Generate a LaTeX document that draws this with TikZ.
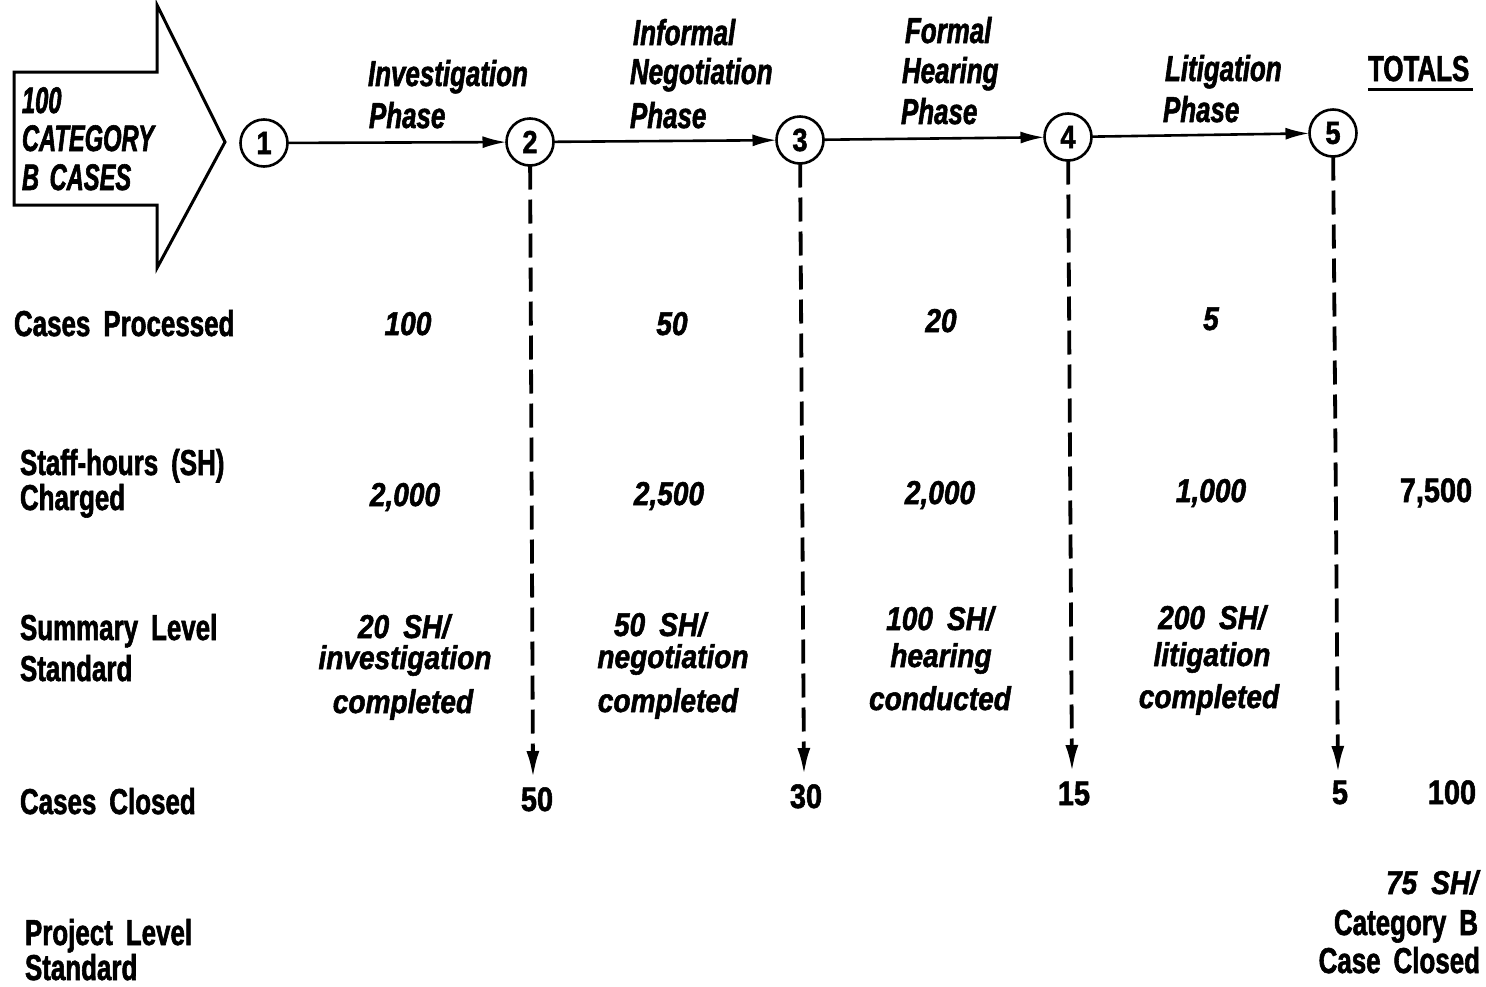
\documentclass[tikz,border=0pt]{standalone}
\usepackage{fontspec}
\setmainfont{Liberation Sans}[FakeStretch=0.72, WordSpace=1.8,
  BoldFeatures={FakeBold=1.6}, BoldItalicFeatures={FakeBold=1.6}]
\newfontfamily\numfont{Liberation Sans}[FakeStretch=0.85, WordSpace=1.8,
  BoldFeatures={FakeBold=1.6}, BoldItalicFeatures={FakeBold=1.6}]
\newfontfamily\boxfont{Liberation Sans}[FakeStretch=0.64, WordSpace=1.6,
  BoldFeatures={FakeBold=1.6}, BoldItalicFeatures={FakeBold=1.6}]
\usetikzlibrary{arrows.meta}

\begin{document}
\begin{tikzpicture}[x=1pt, y=-1pt,
  every node/.style={inner sep=0pt, outer sep=0pt},
  lbl/.style={font=\fontsize{36}{38}\selectfont\bfseries, anchor=base west},
  ilbl/.style={font=\fontsize{36}{38}\selectfont\bfseries\itshape, anchor=base west},
  blbl/.style={font=\boxfont\fontsize{37}{39}\selectfont\bfseries\itshape, anchor=base west},
  num/.style={font=\numfont\fontsize{33}{35}\selectfont\bfseries\itshape, anchor=base},
  unum/.style={font=\numfont\fontsize{34}{36}\selectfont\bfseries, anchor=base},
  rlbl/.style={font=\fontsize{36}{38}\selectfont\bfseries, anchor=base east},
  event/.style={circle, draw, line width=2.6pt, minimum size=47pt,
                font=\numfont\fontsize{32}{34}\selectfont\bfseries},
  flow/.style={line width=2.6pt, -{Latex[length=24pt, width=12pt]}},
  closeout/.style={line width=3.8pt, dash pattern=on 24pt off 10pt,
                   -{Latex[length=27pt, width=13pt]}}
]
\useasboundingbox (0,0) rectangle (1486,986);

% incoming block arrow
\draw[line width=3pt, line join=miter]
  (14,72) -- (157,72) -- (157,5) -- (225,142) -- (157,268) -- (157,205) -- (14,205) -- cycle;
\node[blbl] (in1) at (22,113) {100};
\node[blbl] (in2) at (22,151) {CATEGORY};
\node[blbl] (in3) at (22,190) {B CASES};

% events
\node[event] (c1) at (264,143) {1};
\node[event] (c2) at (530,142) {2};
\node[event] (c3) at (800,140) {3};
\node[event] (c4) at (1068,137) {4};
\node[event] (c5) at (1333,133) {5};

\draw[flow] (c1) -- (c2);
\draw[flow] (c2) -- (c3);
\draw[flow] (c3) -- (c4);
\draw[flow] (c4) -- (c5);

% phase headings
\node[ilbl] (hA1) at (368,86) {Investigation};
\node[ilbl] (hA2) at (369,128) {Phase};
\node[ilbl] (hB1) at (633,45) {Informal};
\node[ilbl] (hB2) at (630,84) {Negotiation};
\node[ilbl] (hB3) at (630,128) {Phase};
\node[ilbl] (hC1) at (905,43) {Formal};
\node[ilbl] (hC2) at (902,83) {Hearing};
\node[ilbl] (hC3) at (901,124) {Phase};
\node[ilbl] (hD1) at (1165,81) {Litigation};
\node[ilbl] (hD2) at (1163,122) {Phase};
\node[lbl] (tot) at (1368,81) {TOTALS};
\draw[line width=3pt] (tot.base west) ++(0,8) -- ++(105,0);

% closing paths
\coordinate (e2) at (533,778);
\coordinate (e3) at (804,775);
\coordinate (e4) at (1072,772);
\coordinate (e5) at (1338,773);
\draw[closeout] (c2) -- (e2);
\draw[closeout] (c3) -- (e3);
\draw[closeout] (c4) -- (e4);
\draw[closeout] (c5) -- (e5);

% row labels
\node[lbl] (r1) at (14,336) {Cases Processed};
\node[lbl] (r2a) at (20,475) {Staff-hours (SH)};
\node[lbl] (r2b) at (20,510) {Charged};
\node[lbl] (r3a) at (20,640) {Summary Level};
\node[lbl] (r3b) at (20,681) {Standard};
\node[lbl] (r4) at (20,814) {Cases Closed};
\node[lbl] (r5a) at (25,945) {Project Level};
\node[lbl] (r5b) at (25,980) {Standard};

% cases processed
\node[num] (p1) at (408,335) {100};
\node[num] (p2) at (672,335) {50};
\node[num] (p3) at (941,332) {20};
\node[num] (p4) at (1211,330) {5};

% staff-hours charged
\node[num] (s1) at (405,506) {2,000};
\node[num] (s2) at (669,505) {2,500};
\node[num] (s3) at (940,504) {2,000};
\node[num] (s4) at (1211,502) {1,000};
\node[unum] (s5) at (1436,502) {7,500};

% summary level standards
\node[num] (a1) at (404,638) {20 SH/};
\node[num] (a2) at (405,669) {investigation};
\node[num] (a3) at (403,713) {completed};
\node[num] (b1) at (660,636) {50 SH/};
\node[num] (b2) at (673,668) {negotiation};
\node[num] (b3) at (668,712) {completed};
\node[num] (d1) at (940,630) {100 SH/};
\node[num] (d2) at (941,667) {hearing};
\node[num] (d3) at (940,710) {conducted};
\node[num] (f1) at (1212,629) {200 SH/};
\node[num] (f2) at (1212,666) {litigation};
\node[num] (f3) at (1209,708) {completed};

% cases closed
\node[unum] (k2) at (537,811) {50};
\node[unum] (k3) at (806,808) {30};
\node[unum] (k4) at (1074,805) {15};
\node[unum] (k5) at (1340,804) {5};
\node[unum] (kt) at (1452,804) {100};

% project level standard
\node[rlbl, font=\numfont\fontsize{33}{35}\selectfont\bfseries\itshape] (g1) at (1478,894) {75 SH/};
\node[rlbl] (g2) at (1478,935) {Category B};
\node[rlbl] (g3) at (1480,973) {Case Closed};
\end{tikzpicture}
\end{document}
